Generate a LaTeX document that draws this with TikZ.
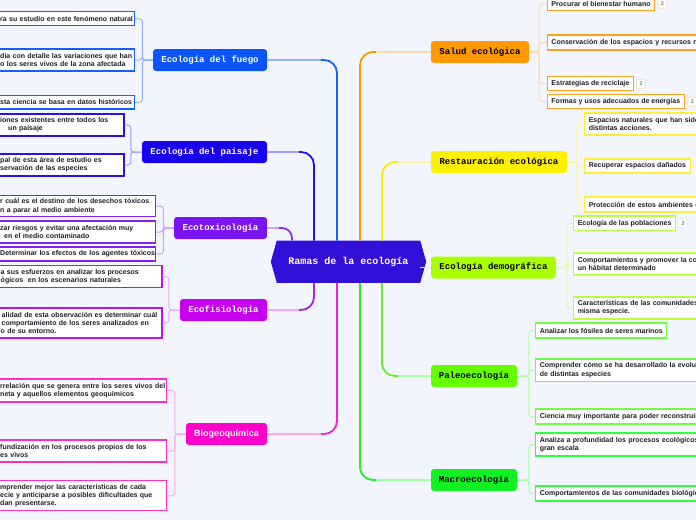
\documentclass[tikz,border=0pt]{standalone}
\usepackage{fontspec}
\setmainfont{Liberation Sans}
\newfontfamily\monof{Liberation Mono}
\usetikzlibrary{calc}
\pgfdeclarelayer{bglayer}
\pgfsetlayers{bglayer,main}
\definecolor{bgc}{HTML}{F3F5FE}
\definecolor{rootc}{HTML}{3210D8}
\definecolor{leaftext}{HTML}{1E1E28}
% fuego
\definecolor{fuN}{HTML}{0A55F8}\definecolor{fuS}{HTML}{1A60FF}\definecolor{fuP}{HTML}{8FB0FF}\definecolor{fuL}{HTML}{1A5CFF}
% paisaje
\definecolor{paN}{HTML}{1800EC}\definecolor{paS}{HTML}{2A10E8}\definecolor{paP}{HTML}{A898FF}\definecolor{paL}{HTML}{2A10E8}
% ecotox
\definecolor{etN}{HTML}{7A14F2}\definecolor{etS}{HTML}{8A30F0}\definecolor{etP}{HTML}{C8A0FF}\definecolor{etL}{HTML}{8020EE}
% ecofisio
\definecolor{efN}{HTML}{C800F0}\definecolor{efS}{HTML}{B820E0}\definecolor{efP}{HTML}{E8A8FF}\definecolor{efL}{HTML}{C010E8}
% biogeo
\definecolor{bgN}{HTML}{FF00C8}\definecolor{bgS}{HTML}{F820C8}\definecolor{bgP}{HTML}{FFAAEE}\definecolor{bgL}{HTML}{F830C8}
% salud
\definecolor{saN}{HTML}{FF9900}\definecolor{saS}{HTML}{FF9900}\definecolor{saP}{HTML}{FFD8A8}\definecolor{saL}{HTML}{FFA020}
% restauracion
\definecolor{reN}{HTML}{FFF000}\definecolor{reS}{HTML}{FFEE00}\definecolor{reP}{HTML}{FFF4A0}\definecolor{reL}{HTML}{FFEE40}
% demografica
\definecolor{deN}{HTML}{AAFF00}\definecolor{deP}{HTML}{D8FFA0}\definecolor{deL}{HTML}{B8FF40}
% paleo
\definecolor{plN}{HTML}{66FF00}\definecolor{plS}{HTML}{66EE22}\definecolor{plP}{HTML}{B0FFA0}\definecolor{plL}{HTML}{70FF40}
% macro
\definecolor{maN}{HTML}{11F022}\definecolor{maS}{HTML}{22EE22}\definecolor{maP}{HTML}{A0FFA0}\definecolor{maL}{HTML}{30FF40}
\newcommand\leaffont{\bfseries\fontsize{7}{8.3}\selectfont}
\newcommand\mainfont{\monof\bfseries\fontsize{9}{10}\selectfont}
\tikzset{
  mnode/.style={rounded corners=3pt, minimum height=22pt, inner sep=0pt, font=\mainfont},
  rootn/.style={minimum width=143pt, minimum height=42pt, inner sep=0pt, text=white,
    font=\monof\bfseries\fontsize{10}{11}\selectfont},
  strongline/.style={line width=1.8pt, rounded corners=13pt},
  paleline/.style={line width=1.5pt},
  brline/.style={line width=1pt, rounded corners=3pt},
  leaf/.style={draw, fill=white, line width=1.1pt, inner xsep=4.2pt, inner ysep=2pt,
    font=\leaffont, text=leaftext, align=left, anchor=west, minimum height=14pt},
  lleaf/.style={leaf, anchor=east},
  wide/.style={text width=190pt},
  badge/.style={draw, fill=white, line width=0.6pt, rounded corners=2pt, minimum width=9pt,
    minimum height=9pt, inner sep=0pt, font=\bfseries\fontsize{5.5}{6}\selectfont, text=gray},
}
\begin{document}
\begin{tikzpicture}[x=1pt,y=-1pt]
\useasboundingbox (0,0) rectangle (696,520);
\begin{pgfonlayer}{bglayer}
\fill[bgc] (0,0) rectangle (696,520);
\end{pgfonlayer}
\clip (0,0) rectangle (696,520);

% ---------- root ----------
\node[rootn] (root) at (348.5,261.7) {Ramas de la ecología};
\begin{pgfonlayer}{bglayer}
\fill[rootc] (root.north west) -- (root.north east) -- ([xshift=6pt]root.east)
  -- (root.south east) -- (root.south west) -- ([xshift=-6pt]root.west) -- cycle;
\end{pgfonlayer}

% ---------- main nodes ----------
\node[mnode, fill=fuN, text=white, minimum width=114pt] (fuego) at (210,60) {Ecología del fuego};
\node[mnode, fill=paN, text=white, minimum width=125pt] (paisaje) at (204.5,152) {Ecología del paisaje};
\node[mnode, fill=etN, text=white, minimum width=93pt] (ecotox) at (220.5,228) {Ecotoxicología};
\node[mnode, fill=efN, text=white, minimum width=87pt] (ecofis) at (223.5,310) {Ecofisiología};
\node[mnode, fill=bgN, text=white, minimum width=81pt, font=\bfseries\fontsize{9}{10}\selectfont] (biogeo) at (226.5,434) {Biogeoquímica};
\node[mnode, fill=saN, text=black, minimum width=98pt] (salud) at (480,52) {Salud ecológica};
\node[mnode, fill=reN, text=black, minimum width=136pt] (rest) at (499,162) {Restauración ecológica};
\node[mnode, fill=deN, text=black, minimum width=125pt] (demog) at (493.5,267.5) {Ecología demográfica};
\node[mnode, fill=plN, text=black, minimum width=86pt] (paleo) at (474,376) {Paleoecología};
\node[mnode, fill=maN, text=black, minimum width=86pt] (macro) at (474,480) {Macroecología};

% ---------- connectors from root ----------
\coordinate (tFu) at ([xshift=-11.5pt]root.north);
\coordinate (kFu) at ($(tFu |- fuego.east)+(-16,0)$);
\draw[strongline, fuS] (kFu) -| (tFu);
\draw[paleline, fuP] (fuego.east) -- (kFu);

\coordinate (tPa) at ([xshift=-34.5pt]root.north);
\coordinate (kPa) at ($(tPa |- paisaje.east)+(-15,0)$);
\draw[strongline, paS] (kPa) -| (tPa);
\draw[paleline, paP] (paisaje.east) -- (kPa);

\coordinate (tEt) at ([xshift=-56.5pt]root.north);
\coordinate (kEt) at ($(tEt |- ecotox.east)+(-13,0)$);
\draw[strongline, etS, rounded corners=10pt] (kEt) -| (tEt);
\draw[paleline, etP] (ecotox.east) -- (kEt);

\coordinate (tEf) at ([xshift=-34.5pt]root.south);
\coordinate (kEf) at ($(tEf |- ecofis.east)+(-15,0)$);
\draw[strongline, efS] (kEf) -| (tEf);
\draw[paleline, efP] (ecofis.east) -- (kEf);

\coordinate (tBg) at ([xshift=-11.5pt]root.south);
\coordinate (kBg) at ($(tBg |- biogeo.east)+(-16,0)$);
\draw[strongline, bgS] (kBg) -| (tBg);
\draw[paleline, bgP] (biogeo.east) -- (kBg);

\coordinate (tSa) at ([xshift=11.5pt]root.north);
\coordinate (kSa) at ($(tSa |- salud.west)+(16,0)$);
\draw[strongline, saS] (kSa) -| (tSa);
\draw[paleline, saP] (salud.west) -- (kSa);

\coordinate (tRe) at ([xshift=33.5pt]root.north);
\coordinate (kRe) at ($(tRe |- rest.west)+(16,0)$);
\draw[strongline, reS] (kRe) -| (tRe);
\draw[paleline, reP] (rest.west) -- (kRe);

\draw[paleline, deP] (root.east |- demog.west) -- (demog.west);

\coordinate (tPl) at ([xshift=33.5pt]root.south);
\coordinate (kPl) at ($(tPl |- paleo.west)+(16,0)$);
\draw[strongline, plS] (kPl) -| (tPl);
\draw[paleline, plP] (paleo.west) -- (kPl);

\coordinate (tMa) at ([xshift=11.5pt]root.south);
\coordinate (kMa) at ($(tMa |- macro.west)+(16,0)$);
\draw[strongline, maS] (kMa) -| (tMa);
\draw[paleline, maP] (macro.west) -- (kMa);

% ---------- left leaves ----------
% fuego
\node[lleaf, draw=fuL, text width=130pt] (fu1) at (135,18.85) {\mbox{ra su estudio en este fenómeno natural}};
\node[lleaf, draw=fuL, text width=130pt, minimum height=22pt] (fu2) at (135,60) {\mbox{dia con detalle las variaciones que han}\\\mbox{o los seres vivos de la zona afectada}};
\node[lleaf, draw=fuL, text width=130pt, minimum height=13.3pt] (fu3) at (135,102.35) {\mbox{\llap{E}sta ciencia se basa en datos históricos}};
\foreach \l in {fu1,fu2,fu3} \draw[brline, fuP] (fuego.west) -- ++(-10.5,0) |- (\l.east);

% paisaje
\node[lleaf, draw=paL, text width=119.5pt, minimum height=22pt] (pa1) at (124.5,125) {\mbox{iones existentes entre todos los}\\\mbox{\hspace*{8pt}un paisaje}};
\node[lleaf, draw=paL, text width=119.5pt, minimum height=22pt] (pa2) at (124.5,165) {\mbox{pal de esta área de estudio es}\\\mbox{servación de las especies}};
\foreach \l in {pa1,pa2} \draw[brline, paP] (paisaje.west) -- ++(-11,0) |- (\l.east);

% ecotox
\node[lleaf, draw=etL, text width=151pt, minimum height=21pt] (et1) at (156,206.2) {\mbox{r cuál es el destino de los desechos tóxicos}\\\mbox{n a parar al medio ambiente}};
\node[lleaf, draw=etL, text width=151pt, minimum height=22pt] (et2) at (156,232) {\mbox{zar riesgos y evitar una afectación muy}\\\mbox{\hspace*{4pt}en el medio contaminado}};
\node[lleaf, draw=etL, text width=151pt] (et3) at (156,254) {\mbox{Determinar los efectos de los agentes tóxicos}};
\foreach \l in {et1,et2,et3} \draw[brline, etP] (ecotox.west) -- ++(-10.5,0) |- (\l.east);

% ecofisio
\node[lleaf, draw=efL, text width=157pt, minimum height=22pt] (ef1) at (162.5,276.7) {\mbox{a sus esfuerzos en analizar los procesos}\\\mbox{ógicos~ en los escenarios naturales}};
\node[lleaf, draw=efL, text width=157pt, minimum height=30pt] (ef2) at (162.5,323) {\mbox{\hspace*{1pt}alidad de esta observación es determinar cuál}\\\mbox{\hspace*{1pt}comportamiento de los seres analizados en}\\\mbox{o de su entorno.}};
\foreach \l in {ef1,ef2} \draw[brline, efP] (ecofis.west) -- ++(-11,0) |- (\l.east);

% biogeo
\node[lleaf, draw=bgL, text width=162pt, minimum height=23pt] (bg1) at (167,390.5) {\mbox{rrelación que se genera entre los seres vivos del}\\\mbox{neta y aquellos elementos geoquímicos}};
\node[lleaf, draw=bgL, text width=162pt, minimum height=22pt] (bg2) at (167,451) {\mbox{fundización en los procesos propios de los}\\\mbox{es vivos}};
\node[lleaf, draw=bgL, text width=162pt, minimum height=30pt] (bg3) at (167,495.8) {\mbox{mprender mejor las características de cada}\\\mbox{ecie y anticiparse a posibles dificultades que}\\\mbox{dan presentarse.}};
\foreach \l in {bg1,bg2,bg3} \draw[brline, bgP] (biogeo.west) -- ++(-11,0) |- (\l.east);

% ---------- right leaves ----------
% salud
\node[leaf, draw=saL] (sa1) at (546.7,3.7) {Procurar el bienestar humano};
\node[badge, draw=saP] (sab1) at ([xshift=7pt]sa1.east) {2};
\node[leaf, draw=saL, wide, minimum height=15pt] (sa2) at (546.7,42.5) {\mbox{Conservación de los espacios y recursos n}};
\node[leaf, draw=saL] (sa3) at (546.7,83.7) {Estrategias de reciclaje};
\node[badge, draw=saP] (sab3) at ([xshift=7pt]sa3.east) {2};
\node[leaf, draw=saL, minimum height=14.4pt] (sa4) at (546.7,101.5) {Formas y usos adecuados de energías};
\node[badge, draw=saP] (sab4) at ([xshift=7.5pt]sa4.east) {2};
\foreach \l in {sa1,sa2,sa3,sa4} \draw[brline, saP] (salud.east) -- ++(10,0) |- (\l.west);

% restauracion
\node[leaf, draw=reL, wide, minimum height=22pt] (re1) at (584,124) {\mbox{Espacios naturales que han sido}\\\mbox{distintas acciones.}};
\node[leaf, draw=reL] (re2) at (584,166) {Recuperar espacios dañados};
\node[leaf, draw=reL, wide, minimum height=15pt] (re3) at (584,204.5) {\mbox{Protección de estos ambientes c}};
\foreach \l in {re1,re2,re3} \draw[brline, reP] (rest.east) -- ++(9.7,0) |- (\l.west);
\coordinate (reEnd) at ($(re2.east)+(12,0)$);
\draw[brline, reP] (re2.east) -- (reEnd);

% demografica
\node[leaf, draw=deL, minimum height=14.7pt] (de1) at (573,223.3) {Ecología de las poblaciones};
\node[badge, draw=deP] (deb1) at ([xshift=7pt]de1.east) {2};
\node[leaf, draw=deL, wide, minimum height=22pt] (de2) at (573,264) {\mbox{Comportamientos y promover la co}\\\mbox{un hábitat determinado}};
\node[leaf, draw=deL, wide, minimum height=22pt] (de3) at (573,308) {\mbox{Características de las comunidades}\\\mbox{misma especie.}};
\foreach \l in {de1,de2,de3} \draw[brline, deP] (demog.east) -- ++(10.7,0) |- (\l.west);

% paleo
\node[leaf, draw=plL, minimum height=15pt] (pl1) at (535,330.5) {Analizar los fósiles de seres marinos};
\node[leaf, draw=plL, wide, minimum height=22.7pt] (pl2) at (535,370.3) {\mbox{Comprender cómo se ha desarrollado la evoluc}\\\mbox{de distintas especies}};
\node[leaf, draw=plL, wide, minimum height=15pt] (pl3) at (535,416.5) {\mbox{Ciencia muy importante para poder reconstruir}};
\foreach \l in {pl1,pl2,pl3} \draw[brline, plP] (paleo.east) -- ++(11.7,0) |- (\l.west);

% macro
\node[leaf, draw=maL, wide, minimum height=23pt] (ma1) at (535,444.5) {\mbox{Analiza a profundidad los procesos ecológicos}\\\mbox{gran escala}};
\node[leaf, draw=maL, wide, minimum height=15pt] (ma2) at (535,493.5) {\mbox{Comportamientos de las comunidades biológic}};
\foreach \l in {ma1,ma2} \draw[brline, maP] (macro.east) -- ++(11.7,0) |- (\l.west);
\end{tikzpicture}
\end{document}
